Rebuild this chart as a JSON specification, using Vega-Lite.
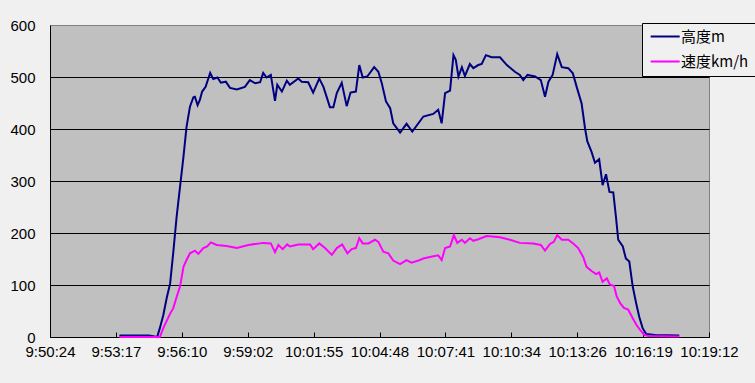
{
  "$schema": "https://vega.github.io/schema/vega-lite/v6.json",
  "width": 659,
  "height": 312,
  "autosize": {"type": "none"},
  "padding": {"left": 50, "top": 25, "right": 46, "bottom": 46},
  "background": "#F0F0F0",
  "config": {
    "view": {"fill": "#C0C0C0", "stroke": "#808080", "strokeWidth": 1},
    "font": "Liberation Sans"
  },
  "datasets": {
    "alt": [
      {"t":182,"v":3},{"t":260,"v":3},{"t":281,"v":0},{"t":288,"v":17},{"t":297,"v":42},{"t":306,"v":75},{"t":315,"v":103},{"t":323,"v":161},{"t":332,"v":231},{"t":341,"v":289},{"t":350,"v":347},{"t":358,"v":404},{"t":367,"v":443},{"t":376,"v":461},{"t":380,"v":462},{"t":387,"v":446},{"t":393,"v":456},{"t":399,"v":472},{"t":408,"v":481},{"t":420,"v":508},{"t":428,"v":496},{"t":439,"v":499},{"t":448,"v":489},{"t":461,"v":491},{"t":472,"v":479},{"t":490,"v":476},{"t":511,"v":481},{"t":524,"v":494},{"t":538,"v":488},{"t":551,"v":490},{"t":559,"v":508},{"t":568,"v":499},{"t":579,"v":504},{"t":590,"v":454},{"t":596,"v":485},{"t":608,"v":472},{"t":621,"v":493},{"t":629,"v":485},{"t":651,"v":497},{"t":660,"v":491},{"t":677,"v":490},{"t":690,"v":470},{"t":706,"v":497},{"t":717,"v":481},{"t":734,"v":442},{"t":743,"v":442},{"t":752,"v":469},{"t":765,"v":489},{"t":778,"v":444},{"t":788,"v":470},{"t":802,"v":472},{"t":811,"v":523},{"t":820,"v":499},{"t":832,"v":501},{"t":850,"v":519},{"t":861,"v":510},{"t":870,"v":488},{"t":881,"v":453},{"t":892,"v":440},{"t":900,"v":411},{"t":918,"v":393},{"t":935,"v":410},{"t":950,"v":395},{"t":966,"v":411},{"t":979,"v":424},{"t":1005,"v":429},{"t":1018,"v":437},{"t":1027,"v":411},{"t":1036,"v":469},{"t":1049,"v":474},{"t":1058,"v":542},{"t":1064,"v":533},{"t":1071,"v":501},{"t":1080,"v":519},{"t":1088,"v":502},{"t":1101,"v":525},{"t":1110,"v":517},{"t":1123,"v":523},{"t":1132,"v":525},{"t":1143,"v":542},{"t":1158,"v":538},{"t":1180,"v":538},{"t":1198,"v":523},{"t":1219,"v":510},{"t":1232,"v":504},{"t":1241,"v":494},{"t":1252,"v":504},{"t":1272,"v":501},{"t":1287,"v":494},{"t":1298,"v":462},{"t":1307,"v":491},{"t":1318,"v":504},{"t":1330,"v":544},{"t":1342,"v":519},{"t":1359,"v":517},{"t":1371,"v":507},{"t":1381,"v":481},{"t":1394,"v":449},{"t":1403,"v":401},{"t":1409,"v":376},{"t":1420,"v":356},{"t":1429,"v":335},{"t":1440,"v":342},{"t":1449,"v":292},{"t":1458,"v":313},{"t":1467,"v":279},{"t":1477,"v":278},{"t":1484,"v":231},{"t":1490,"v":187},{"t":1502,"v":174},{"t":1510,"v":151},{"t":1519,"v":145},{"t":1528,"v":97},{"t":1537,"v":65},{"t":1545,"v":39},{"t":1554,"v":17},{"t":1563,"v":6},{"t":1586,"v":4},{"t":1650,"v":3}
    ],
    "spd": [
      {"t":182,"v":0},{"t":288,"v":0},{"t":297,"v":17},{"t":315,"v":45},{"t":323,"v":55},{"t":332,"v":77},{"t":341,"v":97},{"t":350,"v":135},{"t":358,"v":148},{"t":367,"v":161},{"t":380,"v":166},{"t":389,"v":160},{"t":402,"v":171},{"t":412,"v":174},{"t":422,"v":182},{"t":437,"v":177},{"t":463,"v":175},{"t":490,"v":171},{"t":520,"v":177},{"t":559,"v":181},{"t":579,"v":180},{"t":590,"v":163},{"t":599,"v":177},{"t":610,"v":169},{"t":622,"v":178},{"t":629,"v":174},{"t":651,"v":178},{"t":682,"v":178},{"t":690,"v":169},{"t":706,"v":180},{"t":721,"v":171},{"t":739,"v":158},{"t":752,"v":171},{"t":766,"v":178},{"t":780,"v":161},{"t":791,"v":169},{"t":802,"v":171},{"t":811,"v":190},{"t":820,"v":180},{"t":835,"v":180},{"t":852,"v":187},{"t":861,"v":183},{"t":874,"v":164},{"t":887,"v":161},{"t":900,"v":147},{"t":918,"v":140},{"t":935,"v":148},{"t":948,"v":143},{"t":966,"v":147},{"t":979,"v":151},{"t":996,"v":154},{"t":1018,"v":157},{"t":1027,"v":148},{"t":1036,"v":171},{"t":1049,"v":174},{"t":1059,"v":196},{"t":1068,"v":181},{"t":1080,"v":187},{"t":1088,"v":181},{"t":1101,"v":190},{"t":1110,"v":185},{"t":1123,"v":188},{"t":1145,"v":194},{"t":1180,"v":192},{"t":1206,"v":187},{"t":1232,"v":181},{"t":1267,"v":180},{"t":1287,"v":177},{"t":1298,"v":166},{"t":1311,"v":179},{"t":1321,"v":183},{"t":1330,"v":196},{"t":1342,"v":187},{"t":1359,"v":187},{"t":1372,"v":180},{"t":1385,"v":171},{"t":1398,"v":154},{"t":1407,"v":135},{"t":1420,"v":127},{"t":1432,"v":121},{"t":1440,"v":124},{"t":1449,"v":106},{"t":1460,"v":113},{"t":1468,"v":101},{"t":1479,"v":98},{"t":1486,"v":78},{"t":1495,"v":65},{"t":1505,"v":56},{"t":1516,"v":53},{"t":1528,"v":36},{"t":1538,"v":23},{"t":1549,"v":12},{"t":1558,"v":4},{"t":1569,"v":2},{"t":1650,"v":1}
    ]
  },
  "layer": [
    {
      "data": {"name": "alt"},
      "transform": [{"calculate": "'高度m'", "as": "s"}],
      "mark": {"type": "line", "strokeWidth": 2},
      "encoding": {
        "x": {"field": "t", "type": "quantitative"},
        "y": {"field": "v", "type": "quantitative"},
        "color": {"field": "s", "type": "nominal"}
      }
    },
    {
      "data": {"name": "spd"},
      "transform": [{"calculate": "'速度km/h'", "as": "s"}],
      "mark": {"type": "line", "strokeWidth": 2},
      "encoding": {
        "x": {"field": "t", "type": "quantitative"},
        "y": {"field": "v", "type": "quantitative"},
        "color": {"field": "s", "type": "nominal"}
      }
    }
  ],
  "resolve": {"scale": {"x": "shared", "y": "shared", "color": "shared"}},
  "encoding": {
    "x": {
      "field": "t", "type": "quantitative",
      "scale": {"domain": [0, 1728], "nice": false, "zero": false},
      "axis": {
        "title": null,
        "values": [0, 172.8, 345.6, 518.4, 691.2, 864, 1036.8, 1209.6, 1382.4, 1555.2, 1728],
        "labelExpr": "['9:50:24','9:53:17','9:56:10','9:59:02','10:01:55','10:04:48','10:07:41','10:10:34','10:13:26','10:16:19','10:19:12'][round(datum.value/172.8)]",
        "grid": false,
        "domainColor": "black",
        "tickColor": "black",
        "tickSize": -5,
        "labelPadding": 12,
        "labelFontSize": 15,
        "labelColor": "black",
        "labelOverlap": false,
        "labelFlush": false
      }
    },
    "y": {
      "field": "v", "type": "quantitative",
      "scale": {"domain": [0, 600], "nice": false},
      "axis": {
        "title": null,
        "values": [0, 100, 200, 300, 400, 500, 600],
        "ticks": false,
        "tickSize": 0,
        "labelPadding": 15,
        "labelFontSize": 15,
        "labelColor": "black",
        "domainColor": "black",
        "grid": true,
        "gridColor": {"condition": {"test": "datum.value == 600", "value": "#808080"}, "value": "black"},
        "gridOpacity": 1,
        "labelFlush": false
      }
    },
    "color": {
      "field": "s", "type": "nominal",
      "scale": {"domain": ["高度m", "速度km/h"], "range": ["#000080", "#FF00FF"]},
      "legend": {
        "title": null,
        "orient": "none",
        "legendX": 592,
        "legendY": -2,
        "symbolType": "M-1,0H5",
        "symbolSize": 93.5,
        "symbolStrokeWidth": 2,
        "labelFont": "Noto Sans CJK JP",
        "labelFontSize": 15,
        "labelColor": "black",
        "labelOffset": 18,
        "fillColor": "#F0F0F0",
        "strokeColor": "black",
        "padding": 6,
        "rowPadding": 9
      }
    }
  }
}
